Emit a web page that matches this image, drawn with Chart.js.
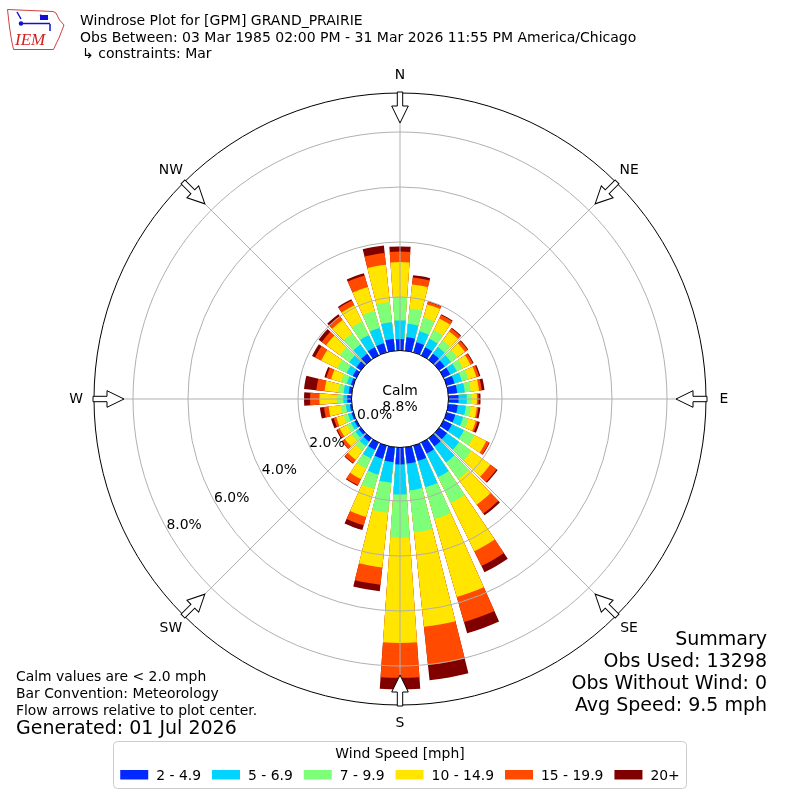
<!DOCTYPE html>
<html>
<head>
<meta charset="utf-8">
<script src="https://cdn.jsdelivr.net/npm/chart.js@4.4.1/dist/chart.umd.min.js"></script>
<style>
  html, body { margin: 0; padding: 0; background: #fff; }
  #wrap { width: 800px; height: 800px; }
</style>
</head>
<body>
<div id="wrap"><canvas id="windrose" width="800" height="800"></canvas></div>
<script>
// wind direction bins (degrees, 10 deg each), values are % of all obs
const directions = [0, 10, 20, 30, 40, 50, 60, 70, 80, 90, 100, 110,
                    120, 130, 140, 150, 160, 170, 180, 190, 200, 210, 220, 230,
                    240, 250, 260, 270, 280, 290, 300, 310, 320, 330, 340, 350];
const compassPoints = ['N', 'NE', 'E', 'SE', 'S', 'SW', 'W', 'NW'];
const speedBins = ['2 - 4.9', '5 - 6.9', '7 - 9.9', '10 - 14.9', '15 - 19.9', '20+'];
const binColors = ['#0028ff', '#00d4ff', '#7dff7a', '#ffe500', '#ff4a00', '#800000'];

const speed2to5 = [0.47, 0.55, 0.44, 0.38, 0.33, 0.30, 0.32, 0.35, 0.38, 0.42, 0.40, 0.38,
                   0.39, 0.40, 0.42, 0.50, 0.63, 0.65, 0.67, 0.60, 0.55, 0.35, 0.20, 0.15,
                   0.13, 0.12, 0.12, 0.21, 0.17, 0.15, 0.20, 0.25, 0.32, 0.38, 0.40, 0.49];
const speed5to7 = [0.68, 0.49, 0.41, 0.35, 0.30, 0.28, 0.27, 0.28, 0.28, 0.30, 0.30, 0.30,
                   0.49, 0.55, 0.72, 0.95, 1.00, 0.98, 1.09, 0.75, 0.60, 0.35, 0.20, 0.15,
                   0.14, 0.14, 0.15, 0.14, 0.18, 0.15, 0.25, 0.32, 0.42, 0.50, 0.58, 0.61];
const speed7to10 = [0.85, 0.56, 0.52, 0.35, 0.30, 0.28, 0.25, 0.25, 0.22, 0.17, 0.18, 0.20,
                    0.42, 0.55, 0.75, 1.05, 1.20, 1.54, 1.58, 1.10, 0.55, 0.40, 0.22, 0.17,
                    0.16, 0.16, 0.18, 0.24, 0.20, 0.22, 0.38, 0.42, 0.50, 0.55, 0.65, 0.74];
const speed10to15 = [1.27, 0.88, 0.50, 0.47, 0.40, 0.35, 0.30, 0.30, 0.30, 0.20, 0.22, 0.28,
                     0.48, 0.85, 1.15, 1.95, 2.95, 3.45, 3.82, 2.00, 1.05, 0.43, 0.40, 0.30,
                     0.30, 0.28, 0.45, 0.63, 0.50, 0.38, 0.65, 0.62, 0.60, 0.65, 0.90, 1.36];
const speed15to20 = [0.38, 0.25, 0.10, 0.14, 0.13, 0.12, 0.10, 0.10, 0.10, 0.06, 0.06, 0.07,
                     0.12, 0.28, 0.40, 0.60, 0.95, 1.40, 1.27, 0.63, 0.32, 0.25, 0.15, 0.12,
                     0.10, 0.10, 0.17, 0.34, 0.30, 0.18, 0.25, 0.20, 0.18, 0.20, 0.43, 0.43];
const speed20up = [0.19, 0.09, 0.02, 0.03, 0.03, 0.03, 0.03, 0.05, 0.10, 0.07, 0.07, 0.08,
                   0.02, 0.05, 0.08, 0.25, 0.42, 0.55, 0.42, 0.24, 0.18, 0.03, 0.03, 0.02,
                   0.04, 0.10, 0.15, 0.22, 0.45, 0.07, 0.12, 0.14, 0.08, 0.05, 0.09, 0.27];

const ringTicks = [0, 2, 4, 6, 8];
const calmPercent = 8.8;

const titleLines = [
    'Windrose Plot for [GPM] GRAND_PRAIRIE',
    'Obs Between: 03 Mar 1985 02:00 PM - 31 Mar 2026 11:55 PM America/Chicago',
    '\u21b3 constraints: Mar'
];
const noteLines = ['Calm values are < 2.0 mph', 'Bar Convention: Meteorology', 'Flow arrows relative to plot center.'];
const generatedText = 'Generated: 01 Jul 2026';
const summaryLines = ['Summary', 'Obs Used: 13298', 'Obs Without Wind: 0', 'Avg Speed: 9.5 mph'];

// stack the speed bins: each dataset is the running total, smallest drawn on top
const bins = [speed2to5, speed5to7, speed7to10, speed10to15, speed15to20, speed20up];
let running = directions.map(() => 0);
const datasets = bins.map((bin, k) => {
    running = running.map((v, i) => v + bin[i]);
    const data = [];
    running.forEach(v => { data.push(+v.toFixed(2)); data.push(0); }); // bar + gap
    return {
        label: speedBins[k],
        data: data,
        backgroundColor: ctx => ctx.dataIndex % 2 ? 'rgba(0,0,0,0)' : binColors[k],
        borderWidth: 0,
        angle: ctx => ctx.dataIndex % 2 ? 2 : 8
    };
});
const labels = [];
directions.forEach(d => { labels.push(d + '\u00b0'); labels.push(''); });

const FONT = '"DejaVu Sans"';

const roseDecor = {
    id: 'roseDecor',
    afterDraw(chart) {
        const ctx = chart.ctx;
        const scale = chart.scales.r;
        const cx = scale.xCenter, cy = scale.yCenter;
        const R = scale.drawingArea;
        const r0 = scale.getDistanceFromCenterForValue(0);
        const rad = d => d * Math.PI / 180;
        const pt = (deg, r) => [cx + r * Math.sin(rad(deg)), cy - r * Math.cos(rad(deg))];

        ctx.save();
        // spokes
        ctx.strokeStyle = '#b0b0b0';
        ctx.lineWidth = 1;
        compassPoints.forEach((name, i) => {
            const a = pt(i * 45, r0), b = pt(i * 45, R);
            ctx.beginPath();
            ctx.moveTo(a[0], a[1]);
            ctx.lineTo(b[0], b[1]);
            ctx.stroke();
        });

        // calm circle
        ctx.beginPath();
        ctx.arc(cx, cy, r0 + 1.5, 0, 2 * Math.PI);
        ctx.fillStyle = '#fff';
        ctx.fill();
        ctx.strokeStyle = '#000';
        ctx.stroke();

        ctx.fillStyle = '#000';
        ctx.font = '13.9px ' + FONT;
        ctx.textAlign = 'center';
        ctx.textBaseline = 'alphabetic';
        ctx.fillText('Calm', cx, cy - 4);
        ctx.fillText(calmPercent.toFixed(1) + '%', cx, cy + 12);

        // ring labels
        ctx.textBaseline = 'middle';
        ringTicks.forEach(v => {
            const p = pt(240, scale.getDistanceFromCenterForValue(v));
            ctx.fillText(v.toFixed(1) + '%', p[0] + 15.3, p[1] - 6.8);
        });

        // flow arrows and compass labels
        compassPoints.forEach((name, i) => {
            ctx.save();
            ctx.translate(cx, cy);
            ctx.rotate(rad(i * 45));
            ctx.beginPath();
            ctx.moveTo(-2.7, -R - 1);
            ctx.lineTo(2.7, -R - 1);
            ctx.lineTo(2.7, -R + 13);
            ctx.lineTo(8.3, -R + 13);
            ctx.lineTo(0, -R + 30);
            ctx.lineTo(-8.3, -R + 13);
            ctx.lineTo(-2.7, -R + 13);
            ctx.closePath();
            ctx.fillStyle = '#fff';
            ctx.fill();
            ctx.strokeStyle = '#000';
            ctx.lineWidth = 1;
            ctx.stroke();
            ctx.restore();

            const p = pt(i * 45, R + 18);
            ctx.fillStyle = '#000';
            ctx.font = '13.9px ' + FONT;
            ctx.textAlign = 'center';
            ctx.textBaseline = 'middle';
            ctx.fillText(name, p[0], p[1]);
        });

        // header
        ctx.textAlign = 'left';
        ctx.textBaseline = 'alphabetic';
        ctx.font = '14px ' + FONT;
        ctx.fillText(titleLines[0], 80, 25);
        ctx.fillText(titleLines[1], 80, 42.3);
        ctx.fillText(titleLines[2], 82, 57.5);

        // notes bottom left
        ctx.font = '13.9px ' + FONT;
        [680.7, 697.7, 714.7].forEach((y, i) => ctx.fillText(noteLines[i], 16, y));
        ctx.font = '19px ' + FONT;
        ctx.fillText(generatedText, 16, 734);

        // summary bottom right
        ctx.textAlign = 'right';
        ctx.font = '19px ' + FONT;
        [644.5, 666.8, 689, 711.2].forEach((y, i) => ctx.fillText(summaryLines[i], 767, y));

        // legend
        ctx.beginPath();
        ctx.roundRect(113.5, 741.5, 573, 47, 4);
        ctx.fillStyle = 'rgba(255,255,255,0.8)';
        ctx.fill();
        ctx.strokeStyle = '#cccccc';
        ctx.stroke();
        ctx.fillStyle = '#000';
        ctx.textAlign = 'center';
        ctx.font = '13.9px ' + FONT;
        ctx.fillText('Wind Speed [mph]', 400, 758);
        ctx.textAlign = 'left';
        const widths = chart.data.datasets.map(ds => ctx.measureText(ds.label).width);
        const total = widths.reduce((a, w) => a + 28 + 8 + w, 0) + 11 * (widths.length - 1);
        let x = 400 - total / 2;
        chart.data.datasets.forEach((ds, k) => {
            ctx.fillStyle = binColors[k];
            ctx.fillRect(x, 770, 28, 9.5);
            ctx.fillStyle = '#000';
            ctx.fillText(ds.label, x + 36, 779.5);
            x += 28 + 8 + widths[k] + 11;
        });

        // IEM logo
        ctx.strokeStyle = '#d04040';
        ctx.lineWidth = 1;
        ctx.beginPath();
        ctx.moveTo(7.5, 9.5);
        ctx.lineTo(53, 11.5);
        ctx.lineTo(56, 13);
        ctx.lineTo(59.5, 20);
        ctx.lineTo(64, 25);
        ctx.lineTo(61.5, 31.5);
        ctx.lineTo(59, 38);
        ctx.lineTo(56.5, 43);
        ctx.lineTo(53.5, 49.5);
        ctx.lineTo(13.5, 49.5);
        ctx.lineTo(11.5, 40);
        ctx.lineTo(9.5, 27);
        ctx.closePath();
        ctx.stroke();
        ctx.fillStyle = '#d02020';
        ctx.font = 'italic 17px "Liberation Serif"';
        ctx.fillText('IEM', 15, 45);
        ctx.strokeStyle = '#1010d0';
        ctx.lineWidth = 1.5;
        ctx.beginPath();
        ctx.moveTo(21, 23.5); ctx.lineTo(50, 23.5);
        ctx.moveTo(17, 12); ctx.lineTo(21, 19);
        ctx.moveTo(40, 15); ctx.lineTo(48, 19);
        ctx.moveTo(50, 24); ctx.lineTo(50, 31);
        ctx.stroke();
        ctx.fillStyle = '#1010d0';
        ctx.beginPath();
        ctx.arc(21, 23.5, 2.2, 0, 2 * Math.PI);
        ctx.fill();
        ctx.fillRect(40, 15, 8, 5);
        ctx.restore();
    }
};

new Chart(document.getElementById('windrose').getContext('2d'), {
    type: 'polarArea',
    data: { labels: labels, datasets: datasets },
    options: {
        responsive: false,
        animation: false,
        events: [],
        layout: { padding: { left: 94, right: 94, top: 93, bottom: 95 } },
        plugins: { legend: { display: false }, tooltip: { enabled: false } },
        scales: {
            r: {
                min: -1.709,
                max: 9.418,
                startAngle: -4,
                ticks: { display: false },
                pointLabels: { display: false },
                angleLines: { display: false },
                grid: {
                    z: 1,
                    lineWidth: 1,
                    color: ctx => (ctx.tick && ctx.tick.value >= 9.4) ? '#000' : '#b0b0b0'
                },
                afterBuildTicks: scale => {
                    scale.ticks = ringTicks.map(v => ({ value: v })).concat([{ value: scale.max }]);
                }
            }
        }
    },
    plugins: [roseDecor]
});
</script>
</body>
</html>
